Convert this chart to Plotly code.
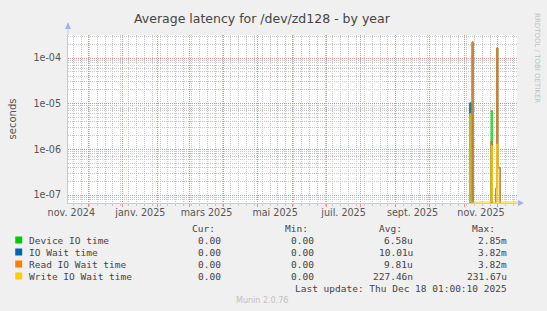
import plotly.graph_objects as go
import pandas as pd

# ---------------- data ----------------
title_text = "Average latency for /dev/zd128 - by year"
range_start = "2024-11-13 01:00"
range_end = "2025-12-18 01:00"

dates = list(pd.date_range("2025-11-05", "2025-12-18", freq="D"))

device_io = [0, 1.0e-5, 5.6e-6, 0, 0, 0, 0, 0, 0, 0, 0, 0, 0, 0, 0, 0, 0, 0, 0, 0,
             7.0e-6, 0, 0, 0, 0, 0, 0, 0, 0, 0, 0, 0, 0, 0, 0, 0, 0, 0, 0, 0, 0, 0, 0, 0]
io_wait = [0, 1.05e-5, 0, 2.24e-4, 0, 0, 0, 0, 0, 0, 0, 0, 0, 0, 0, 0, 0, 0, 0, 0,
           1.5e-6, 0, 0, 0, 1.4e-7, 1.66e-4, 3.95e-7, 3.95e-7, 0, 0, 0, 0, 0, 0, 0, 0, 0, 0, 0, 0, 0, 0, 0, 0]
read_io_wait = [0, 0, 0, 2.24e-4, 0, 0, 0, 0, 0, 0, 0, 0, 0, 0, 0, 0, 0, 0, 0, 0,
                1.5e-6, 0, 0, 0, 1.4e-7, 1.66e-4, 3.95e-7, 3.95e-7, 0, 0, 0, 0, 0, 0, 0, 0, 0, 0, 0, 0, 0, 0, 0, 0]
write_io_wait = [0, 6.0e-6] + [7e-8] * 18 + [1.2e-6] + [7e-8] * 4 + [1.3e-6] + [7e-8] * 18

series_names = ["Device IO time", "IO Wait time", "Read IO Wait time", "Write IO Wait time"]
series_values = [device_io, io_wait, read_io_wait, write_io_wait]
series_colors = ["#00CC00", "#0066B3", "#FF8000", "#FFCC00"]
cur_vals = ["0.00", "0.00", "0.00", "0.00"]
min_vals = ["0.00", "0.00", "0.00", "0.00"]
avg_vals = ["6.58u", "10.01u", "9.81u", "227.46n"]
max_vals = ["2.85m", "3.82m", "3.82m", "231.67u"]

month_starts = list(pd.date_range("2024-12-01", "2025-12-01", freq="MS"))
label_months = list(pd.date_range("2024-11-01", "2025-11-01", freq="2MS"))
label_texts = ["nov. 2024", "janv. 2025", "mars 2025", "mai 2025", "juil. 2025", "sept. 2025", "nov. 2025"]
y_tickvals = [1e-7, 1e-6, 1e-5, 1e-4]
y_ticktext = ["1e-07", "1e-06", "1e-05", "1e-04"]
last_update = "Last update: Thu Dec 18 01:00:10 2025"
version_text = "Munin 2.0.76"
side_text = "RRDTOOL / TOBI OETIKER"

# ---------------- layout geometry ----------------
W, H = 547, 311
L, R, T, B = 66, 517, 35, 203
FLOOR = 1e-12


def px(x):
    return (x - L) / (R - L)


def py(y):
    return (B - y) / (B - T)


label_pos = [m + (m + pd.offsets.MonthBegin(1) - m) / 2 for m in label_months]

fig = go.Figure()
# helper trace on overlay axis (month labels)
fig.add_trace(go.Scatter(x=[range_start], y=[1e-5], xaxis="x2", mode="markers",
                         marker=dict(opacity=0), showlegend=False, hoverinfo="skip"))
for name, vals, col in zip(series_names, series_values, series_colors):
    fig.add_trace(go.Scatter(
        x=dates, y=[v if v > 0 else FLOOR for v in vals], mode="lines",
        line=dict(color=col, width=1, shape="hv"), name=name,
        showlegend=False, hoverinfo="skip"))

GRID_MINOR = "#C8C8C8"
GRID_MAJOR = "#E49090"
DOTS = "1px,1px"
AXIS_COL = "#C4C8F0"
tick_font = dict(family="DejaVu Sans", size=9.6, color="#555555")

fig.update_layout(
    width=W, height=H,
    margin=dict(l=L, r=W - R, t=T, b=H - B),
    paper_bgcolor="#F0F0F0", plot_bgcolor="#FFFFFF",
    xaxis=dict(type="date", range=[range_start, range_end],
               tickmode="array", tickvals=month_starts, showticklabels=False,
               showgrid=True, gridcolor=GRID_MAJOR, griddash=DOTS, gridwidth=1,
               ticks="outside", ticklen=3, tickcolor="#E89090",
               showline=True, linecolor=AXIS_COL, linewidth=1, zeroline=False,
               minor=dict(tickmode="linear", tick0="2024-11-18", dtick=7 * 86400000,
                          showgrid=True, gridcolor=GRID_MINOR, griddash=DOTS, gridwidth=1,
                          ticks="outside", ticklen=2, tickcolor="#C8C8C8")),
    xaxis2=dict(type="date", range=[range_start, range_end], overlaying="x", side="bottom",
                tickmode="array", tickvals=label_pos, ticktext=label_texts,
                showgrid=False, ticks="", tickfont=tick_font, ticklabelstandoff=2,
                zeroline=False, showline=False),
    yaxis=dict(type="log", range=[-7.175, -3.496], tickmode="array",
               tickvals=y_tickvals, ticktext=y_ticktext, tickfont=tick_font,
               showgrid=True, gridcolor=GRID_MAJOR, griddash=DOTS, gridwidth=1,
               ticks="", showline=True, linecolor=AXIS_COL, linewidth=1, zeroline=False,
               ticklabelstandoff=4,
               title=dict(text="seconds", font=dict(family="DejaVu Sans", size=10, color="#555555"),
                          standoff=14),
               minor=dict(dtick="D1", showgrid=True, gridcolor=GRID_MINOR,
                          griddash=DOTS, gridwidth=1)),
    showlegend=False,
)

ann = []
ann.append(dict(text=title_text, x=px(261), y=py(19), xref="paper", yref="paper",
                xanchor="center", yanchor="middle", showarrow=False,
                font=dict(family="DejaVu Sans", size=12.5, color="#444444")))
ann.append(dict(text=side_text, x=px(537), y=py(58), xref="paper", yref="paper",
                xanchor="center", yanchor="middle", showarrow=False, textangle=90,
                font=dict(family="DejaVu Sans", size=7, color="#C0C0C0")))
ann.append(dict(text=version_text, x=px(261), y=py(300), xref="paper", yref="paper",
                xanchor="center", yanchor="middle", showarrow=False,
                font=dict(family="DejaVu Sans", size=8, color="#C0C0C0")))

mono = dict(family="DejaVu Sans Mono", size=9.5, color="#444444")
col_right = [221.7, 315, 415, 509]
head_right = [216, 309, 403, 497]
for hdr, xr in zip(["Cur:", "Min:", "Avg:", "Max:"], head_right):
    ann.append(dict(text=hdr, x=px(xr), y=py(228), xref="paper", yref="paper",
                    xanchor="right", yanchor="middle", showarrow=False, font=mono))
row_y = [240, 252, 264, 276]
shapes = []
for i, name in enumerate(series_names):
    yy = row_y[i]
    ann.append(dict(text=name, x=px(25), y=py(yy), xref="paper", yref="paper",
                    xanchor="left", yanchor="middle", showarrow=False, font=mono))
    for vals, xr in zip([cur_vals, min_vals, avg_vals, max_vals], col_right):
        ann.append(dict(text=vals[i], x=px(xr), y=py(yy), xref="paper", yref="paper",
                        xanchor="right", yanchor="middle", showarrow=False, font=mono))
    shapes.append(dict(type="rect", xref="paper", yref="paper",
                       x0=px(13), x1=px(20), y0=py(yy + 3.5), y1=py(yy - 3.5),
                       fillcolor=series_colors[i], line=dict(width=0)))
ann.append(dict(text=last_update, x=px(509), y=py(288), xref="paper", yref="paper",
                xanchor="right", yanchor="middle", showarrow=False, font=mono))

# axis arrows
ARROW = "#A8B0F0"
shapes.append(dict(type="line", xref="paper", yref="paper", x0=0, x1=0, y0=1, y1=py(27),
                   line=dict(color=AXIS_COL, width=1)))
shapes.append(dict(type="path", xref="paper", yref="paper",
                   path=f"M {px(63)} {py(29)} L {px(69)} {py(29)} L {px(66)} {py(22)} Z",
                   fillcolor=ARROW, line=dict(width=0)))
shapes.append(dict(type="line", xref="paper", yref="paper", x0=1, x1=px(520), y0=0, y1=0,
                   line=dict(color=AXIS_COL, width=1)))
shapes.append(dict(type="path", xref="paper", yref="paper",
                   path=f"M {px(518)} {py(200)} L {px(518)} {py(206)} L {px(524)} {py(203)} Z",
                   fillcolor=ARROW, line=dict(width=0)))

fig.update_layout(annotations=ann, shapes=shapes)
fig.write_html("out.html")
